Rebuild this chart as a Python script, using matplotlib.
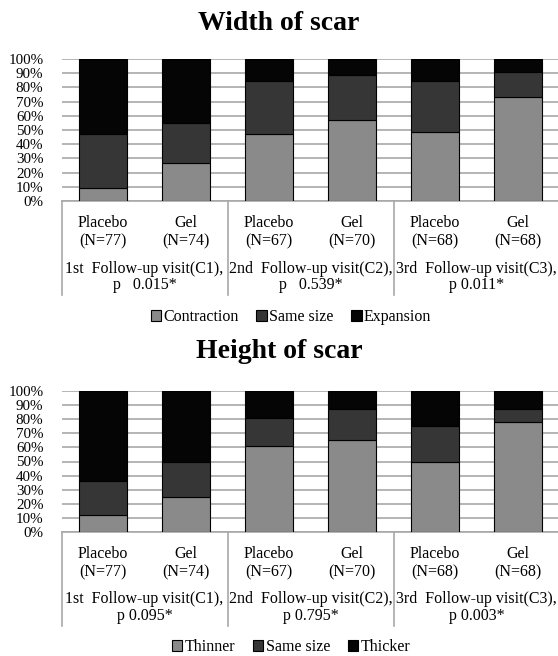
import matplotlib
matplotlib.use("Agg")
import matplotlib.pyplot as plt
from matplotlib.transforms import blended_transform_factory

plt.rcParams['font.family'] = ['Liberation Serif', 'DejaVu Serif']

# data (percent of patients)
groups = ["Placebo\n(N=77)", "Gel\n(N=74)", "Placebo\n(N=67)", "Gel\n(N=70)", "Placebo\n(N=68)", "Gel\n(N=68)"]

width_contraction = [9.5, 27, 47.5, 57, 48.5, 73.5]
width_same = [38, 28, 37, 32, 36, 17.5]
width_expansion = [52.5, 45, 15.5, 11, 15.5, 9]

height_thinner = [12, 25, 61, 65.5, 50, 78]
height_same = [24, 24.5, 19.5, 21.5, 25, 9]
height_thicker = [64, 50.5, 19.5, 13, 25, 13]

width_visits = ["1st  Follow-up visit(C1),\np   0.015*",
                "2nd  Follow-up visit(C2),\np   0.539*",
                "3rd  Follow-up visit(C3),\np 0.011*"]
height_visits = ["1st  Follow-up visit(C1),\np 0.095*",
                 "2nd  Follow-up visit(C2),\np 0.795*",
                 "3rd  Follow-up visit(C3),\np 0.003*"]

colors = ["#8a8a8a", "#363636", "#050505"]
grid_color = "#a8a8a8"
W, H = 558, 656


def stacked_chart(ax, title, series, names, visits, title_y, legend_y):
    x = list(range(len(groups)))
    bottom = [0] * len(groups)
    handles = []
    for vals, name, col in zip(series, names, colors):
        b = ax.bar(x, vals, 0.58, bottom=bottom, color=col, edgecolor="black",
                   linewidth=0.8, label=name, zorder=3)
        handles.append(b)
        bottom = [p + v for p, v in zip(bottom, vals)]

    ax.set_xlim(-0.5, 5.5)
    ax.set_ylim(0, 100)
    ax.set_yticks(range(0, 101, 10))
    ax.set_yticklabels([f"{t}%" for t in range(0, 101, 10)], fontsize=10.8)
    ax.set_xticks(x)
    ax.set_xticklabels(groups, fontsize=11.5, linespacing=1.2)
    ax.tick_params(axis="both", length=0)
    ax.tick_params(axis="y", pad=13)
    ax.tick_params(axis="x", pad=10)
    for s in ["left", "right", "top"]:
        ax.spines[s].set_visible(False)
    ax.spines["bottom"].set_color(grid_color)
    ax.spines["bottom"].set_linewidth(1.2)
    ax.grid(axis="y", color=grid_color, linewidth=1.2, zorder=0)
    ax.set_axisbelow(True)

    trans = blended_transform_factory(ax.transData, ax.transAxes)
    # group separators below the axis
    for xs in [-0.5, 1.5, 3.5, 5.5]:
        ax.plot([xs, xs], [0, -0.665], color=grid_color, linewidth=1.2,
                transform=trans, clip_on=False)
    for i, txt in enumerate(visits):
        ax.text(2 * i + 0.5, -0.535, txt, transform=trans, ha="center", va="center",
                fontsize=11.5, linespacing=1.05)

    fig.text(0.5, title_y, title, ha="center", va="center", fontsize=20, fontweight="bold")
    fig.legend(handles=handles, loc="center", bbox_to_anchor=(291 / W, legend_y), ncol=3,
               frameon=False, fontsize=11.5, handlelength=0.65, handleheight=0.65,
               handletextpad=0.15, columnspacing=1.1)


fig = plt.figure(figsize=(W / 100, H / 100), dpi=100)
left = 61.5 / W
wid = 498 / W
ax1 = fig.add_axes([left, 1 - 201 / H, wid, 142 / H])
ax2 = fig.add_axes([left, 1 - 532 / H, wid, 141 / H])

stacked_chart(ax1, "Width of scar", [width_contraction, width_same, width_expansion],
              ["Contraction", "Same size", "Expansion"], width_visits,
              1 - 23 / H, 1 - 317 / H)
stacked_chart(ax2, "Height of scar", [height_thinner, height_same, height_thicker],
              ["Thinner", "Same size", "Thicker"], height_visits,
              1 - 352 / H, 1 - 647 / H)

fig.savefig("out.png", dpi=100)
